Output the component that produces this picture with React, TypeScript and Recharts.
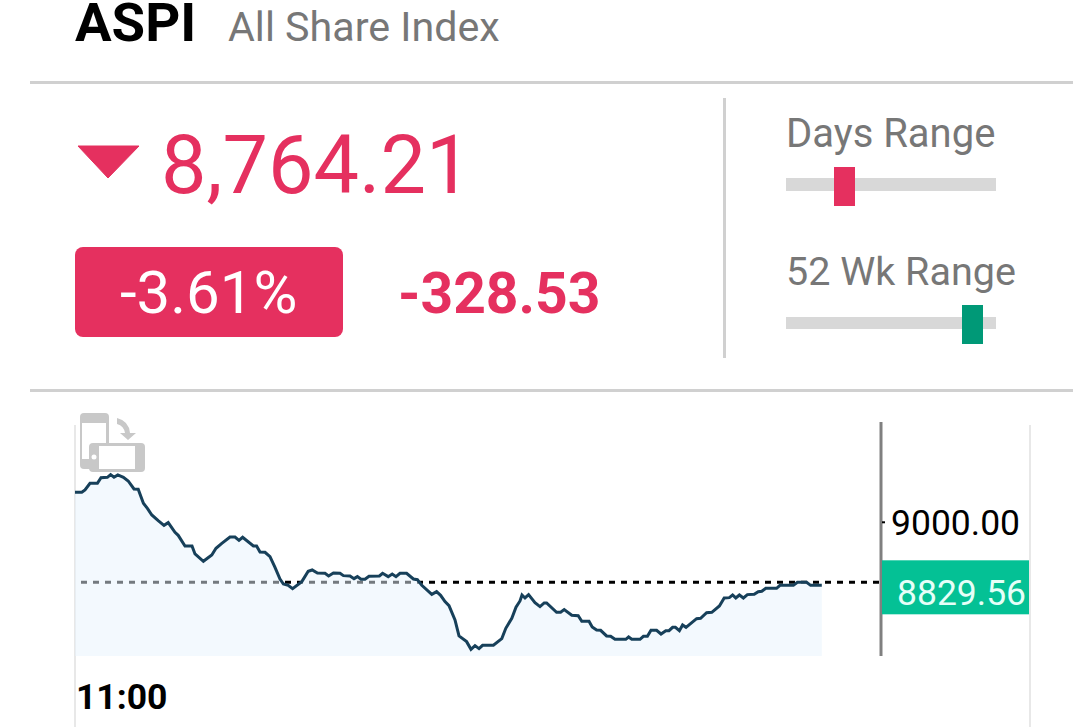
import { Area, ComposedChart, ReferenceLine, XAxis, YAxis } from 'recharts';

const RED = '#e5305f';
const GREEN = '#04c195';
const GREY_TEXT = '#777777';
const RULE = '#d0d0d0';
const FONT = 'Roboto, sans-serif';

// minutes after 11:00
const minutes = [
  0, 1.7, 2.5, 3.75, 5.6, 6.5, 8.1, 8.9, 9.75, 10.7, 12.1, 13.3, 14.75, 15.8, 17.1, 18.1, 19.2, 20.8, 22.25, 23.3,
  25, 25.8, 27.5, 29.25, 30, 32.1, 34.2, 35.25, 36.7, 38.75, 40, 41, 41.9, 44.6, 45.4, 46.25, 47.5, 48.75, 50, 51.25,
  52.1, 53.3, 54.4, 56.7, 58.3, 59.3, 60.6, 62.5, 63.4, 64.6, 66.25, 67.1, 68.75, 69.75, 70.6, 71.5, 72.5, 73.5, 76.1, 76.9,
  78.3, 79.3, 80.25, 81.25, 82.9, 84.6, 85.6, 86.7, 89.2, 90.4, 91.4, 92.5, 93.5, 95, 96, 97.9, 99, 100, 101, 101.9,
  104.6, 106.7, 107.7, 109.2, 110.25, 111.25, 111.75, 112.5, 113.4, 115, 116.25, 117.3, 117.9, 120.4, 121.4, 122.3, 124.2, 125.8, 126.7, 128.5,
  129.3, 130.4, 131.4, 132.9, 133.9, 135, 137.7, 138.4, 139.2, 141.25, 142.1, 143.1, 144, 145.4, 146.5, 147.7, 148.5, 149.4, 150.1, 151.1,
  151.9, 152.75, 155.4, 156.4, 157.9, 159.2, 161.1, 162.3, 163.6, 164.4, 165.2, 166.1, 167.1, 168.1, 169.8, 170.8, 171.7, 172.7, 175.4, 176.25,
  179.6, 180.6, 182.9, 183.9, 186.7,
];

const prices = [
  9085.2, 9085.2, 9091.8, 9110.7, 9110.7, 9126.8, 9127.8, 9135.3, 9127.8, 9134.4, 9127.8, 9117.4, 9094.6, 9093.7, 9053.9, 9039.7, 9020.8, 9004.7, 8991.4, 8999.0,
  8971.6, 8963.0, 8932.8, 8932.8, 8910.0, 8889.2, 8907.2, 8926.1, 8940.3, 8958.3, 8958.3, 8948.9, 8957.4, 8932.8, 8932.8, 8915.7, 8914.8, 8902.5, 8872.2, 8839.0,
  8824.8, 8821.0, 8811.6, 8831.5, 8860.8, 8864.6, 8856.1, 8855.1, 8847.6, 8856.1, 8855.1, 8848.5, 8847.6, 8840.0, 8845.7, 8838.1, 8838.1, 8846.6, 8847.6, 8855.1,
  8845.7, 8853.2, 8845.7, 8855.1, 8855.1, 8839.0, 8837.1, 8821.0, 8795.5, 8803.0, 8792.6, 8774.7, 8763.3, 8722.6, 8677.2, 8661.1, 8639.3, 8649.7, 8641.2, 8650.7,
  8650.7, 8669.6, 8699.0, 8727.4, 8758.6, 8776.6, 8793.6, 8785.1, 8794.6, 8771.9, 8760.5, 8770.9, 8770.9, 8744.4, 8744.4, 8752.0, 8735.9, 8734.9, 8718.8, 8718.8,
  8702.7, 8694.2, 8693.3, 8677.2, 8676.2, 8667.7, 8667.7, 8674.3, 8667.7, 8667.7, 8676.2, 8676.2, 8693.3, 8693.3, 8682.8, 8692.3, 8692.3, 8701.8, 8701.8, 8692.3,
  8708.4, 8701.8, 8726.4, 8727.4, 8743.4, 8744.4, 8762.4, 8785.1, 8786.0, 8793.6, 8785.1, 8793.6, 8785.1, 8794.6, 8795.5, 8803.0, 8804.0, 8812.5, 8812.5, 8821.0,
  8821.0, 8829.6, 8829.6, 8821.0, 8821.0,
];

const lastPrice = 8829.56;
const priceTicks = [9000, lastPrice];
const timeTicks = [0];
const timeLabels = ['11:00'];

const chartData = minutes.map((minute, i) => ({ minute, price: prices[i] }));

function PriceTick({ x, y, payload }: { x: number; y: number; payload: { value: number } }) {
  if (payload.value === lastPrice) {
    return (
      <g>
        <rect x={x + 1} y={y - 22} width={147} height={54} fill={GREEN} />
        <text x={x + 16} y={y + 23} fontFamily={FONT} fontSize={35.5} fill="#e6fff8">
          {payload.value.toFixed(2)}
        </text>
      </g>
    );
  }
  return (
    <g>
      <line x1={x + 1} x2={x + 4} y1={y} y2={y} stroke="#000" strokeWidth={2} />
      <text x={x + 10} y={y + 13} fontFamily={FONT} fontSize={35.5} fill="#000">
        {payload.value.toFixed(2)}
      </text>
    </g>
  );
}

function TimeTick({ x, y, index }: { x: number; y: number; index: number }) {
  return (
    <text x={x + 1} y={y + 45} fontFamily={FONT} fontSize={35.5} fontWeight={700} fill="#000">
      {timeLabels[index]}
    </text>
  );
}

function RotateIcon() {
  return (
    <svg style={{ position: 'absolute', left: 80, top: 413 }} width={66} height={61}>
      <rect x={0} y={0} width={29} height={56} rx={4} fill="#c8c8c8" />
      <rect x={2} y={10} width={24} height={36} fill="#fff" />
      <path d="M37 5 Q49 8 50 20 L56 20 L48 27 L40 20 L45 20 Q44 13 37 11 Z" fill="#c8c8c8" />
      <rect x={9} y={30} width={56} height={29} rx={4} fill="#c8c8c8" />
      <rect x={19} y={33} width={36} height={23} fill="#fff" />
      <circle cx={14} cy={44} r={2.5} fill="#fff" />
    </svg>
  );
}

function Header() {
  return (
    <svg style={{ position: 'absolute', left: 0, top: 0 }} width={1080} height={420} fontFamily={FONT}>
      <text x={75} y={41} fontSize={54.5} fontWeight={700} fill="#000">ASPI</text>
      <text x={228} y={41} fontSize={41.2} fill={GREY_TEXT}>All Share Index</text>
      <rect x={30} y={81} width={1043} height={3} fill={RULE} />

      <path d="M78 146 L139 146 L108 178 Z" fill={RED} stroke={RED} strokeLinejoin="round" />
      <text x={161} y={193} fontSize={81} fill={RED}>8,764.21</text>
      <rect x={75} y={247} width={268} height={90} rx={8} fill={RED} />
      <text x={120} y={313} fontSize={60} fill="#fff">-3.61%</text>
      <text x={398} y={313} fontSize={57} fontWeight={700} fill={RED}>-328.53</text>

      <rect x={723} y={98} width={3} height={260} fill={RULE} />
      <text x={786} y={147} fontSize={40} fill={GREY_TEXT}>Days Range</text>
      <rect x={786} y={178} width={210} height={13} fill="#d8d8d8" />
      <rect x={834} y={167} width={21} height={39} fill={RED} />
      <text x={786} y={285} fontSize={39.5} fill={GREY_TEXT}>52 Wk Range</text>
      <rect x={786} y={317} width={210} height={12} fill="#d8d8d8" />
      <rect x={962} y={305} width={21} height={39} fill="#009977" />

      <rect x={30} y={389} width={1043} height={3} fill={RULE} />
    </svg>
  );
}

export default function App() {
  return (
    <div style={{ position: 'absolute', left: 0, top: 0, width: 1080, height: 727, background: '#fff', overflow: 'hidden' }}>
      <Header />
      <div style={{ position: 'absolute', left: 74, top: 425, width: 2, height: 302, background: '#e8e8e8' }} />
      <div style={{ position: 'absolute', left: 1029, top: 425, width: 2, height: 302, background: '#e8e8e8' }} />
      <div style={{ position: 'absolute', left: 0, top: 0 }}>
        <ComposedChart
          width={1080}
          height={727}
          data={chartData}
          margin={{ top: 422, right: 0, bottom: 0, left: 75 }}
        >
          <XAxis
            type="number"
            dataKey="minute"
            domain={[0, 201.5]}
            ticks={timeTicks}
            height={71}
            axisLine={false}
            tickLine={false}
            tick={TimeTick as any}
            interval={0}
          />
          <YAxis
            type="number"
            orientation="right"
            domain={[8620.3, 9284.8]}
            ticks={priceTicks}
            width={199}
            axisLine={{ stroke: '#808080', strokeWidth: 3 }}
            tickLine={false}
            tickSize={0}
            tickMargin={0}
            tick={PriceTick as any}
            interval={0}
          />
          <ReferenceLine
            stroke="#000"
            strokeWidth={3}
            strokeDasharray="6 6"
            segment={[{ x: 1.5, y: lastPrice }, { x: 201.5, y: lastPrice }]}
            zIndex={50}
          />
          <Area
            type="linear"
            dataKey="price"
            stroke="#17405a"
            strokeWidth={3}
            fill="#e8f3fd"
            fillOpacity={0.5}
            isAnimationActive={false}
            dot={false}
            activeDot={false}
          />
        </ComposedChart>
      </div>
      <RotateIcon />
    </div>
  );
}
